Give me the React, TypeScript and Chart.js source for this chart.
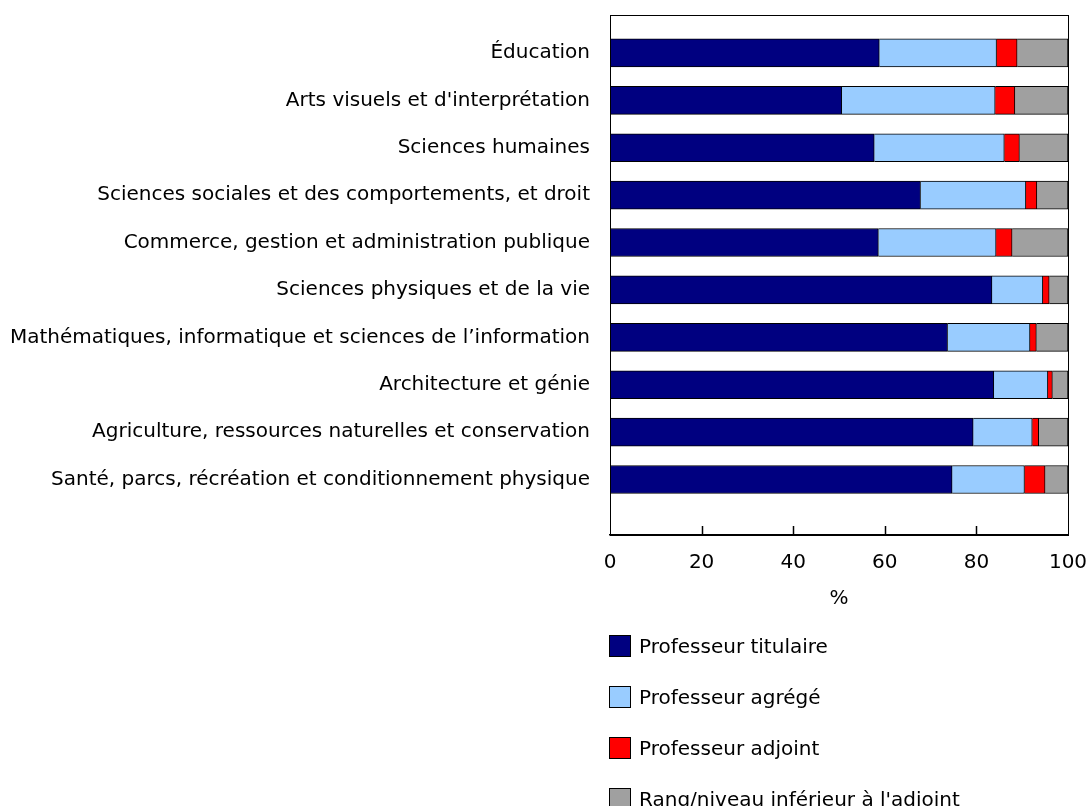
import React, { useEffect, useRef } from "react";
import { Chart, registerables } from "chart.js";

Chart.register(...registerables);

const categories = [
  "Éducation",
  "Arts visuels et d'interprétation",
  "Sciences humaines",
  "Sciences sociales et des comportements, et droit",
  "Commerce, gestion et administration publique",
  "Sciences physiques et de la vie",
  "Mathématiques, informatique et sciences de l’information",
  "Architecture et génie",
  "Agriculture, ressources naturelles et conservation",
  "Santé, parcs, récréation et conditionnement physique",
];

const seriesNames = [
  "Professeur titulaire",
  "Professeur agrégé",
  "Professeur adjoint",
  "Rang/niveau inférieur à l'adjoint",
];

const titulaire = [58.8, 50.6, 57.7, 67.8, 58.6, 83.4, 73.7, 83.8, 79.3, 74.7];
const agrege = [25.6, 33.5, 28.4, 23.0, 25.7, 11.1, 18.0, 11.8, 12.9, 15.8];
const adjoint = [4.5, 4.3, 3.3, 2.4, 3.5, 1.4, 1.4, 1.0, 1.4, 4.5];
const inferieur = [11.1, 11.6, 10.6, 6.8, 12.2, 4.1, 6.9, 3.4, 6.4, 5.0];

const xTicks = [0, 20, 40, 60, 80, 100];
const xTitle = "%";

const colors = ["#000080", "#99CCFF", "#FF0000", "#A0A0A0"];
const FONT = "'DejaVu Sans', Verdana, sans-serif";
const FS = 20;

const frameAndTicks = {
  id: "frameAndTicks",
  afterDraw(chart: any) {
    const { ctx, chartArea } = chart;
    const xs = chart.scales.x;
    ctx.save();
    ctx.strokeStyle = "#000";
    ctx.lineWidth = 1;
    ctx.strokeRect(
      Math.round(chartArea.left) + 0.5,
      Math.round(chartArea.top) + 0.5,
      Math.round(chartArea.right - chartArea.left),
      Math.round(chartArea.bottom - chartArea.top)
    );
    ctx.lineWidth = 1.5;
    xTicks.forEach((v) => {
      if (v === 0 || v === 100) return;
      const px = Math.round(xs.getPixelForValue(v)) + 0.5;
      ctx.beginPath();
      ctx.moveTo(px, chartArea.bottom);
      ctx.lineTo(px, chartArea.bottom - 9);
      ctx.stroke();
    });
    ctx.restore();
  },
};

export default function App() {
  const ref = useRef<HTMLCanvasElement>(null);

  useEffect(() => {
    if (!ref.current) return;
    Chart.defaults.font.family = FONT;
    Chart.defaults.font.size = FS;
    Chart.defaults.color = "#000";
    const series = [titulaire, agrege, adjoint, inferieur];
    const chart = new Chart(ref.current, {
      type: "bar",
      data: {
        datasets: series.map((vals, s) => ({
          label: seriesNames[s],
          data: vals.map((v, i) => ({ x: v, y: i })),
          backgroundColor: colors[s],
          borderColor: "#000",
          borderWidth: 1,
          barThickness: 28,
        })),
      },
      options: {
        indexAxis: "y",
        animation: false,
        responsive: false,
        maintainAspectRatio: false,
        layout: { padding: { top: 15, right: 19, bottom: 191, left: 0 } },
        plugins: {
          legend: { display: false },
          tooltip: { enabled: false },
        },
        scales: {
          x: {
            type: "linear",
            stacked: true,
            min: 0,
            max: 100,
            offset: false,
            afterBuildTicks: (axis: any) => {
              axis.ticks = xTicks.map((v) => ({ value: v }));
            },
            afterFit: (s: any) => {
              s.height = 80;
              s.paddingLeft = 0;
              s.paddingRight = 0;
            },
            grid: { display: false, drawTicks: false },
            border: { display: true, color: "#000", width: 1.5 },
            ticks: { padding: 16, font: { size: FS }, color: "#000" },
            title: { display: true, text: xTitle, font: { size: FS }, color: "#000" },
          },
          y: {
            type: "linear",
            stacked: true,
            reverse: true,
            offset: false,
            min: -0.8,
            max: 10.17,
            afterBuildTicks: (axis: any) => {
              axis.ticks = categories.map((_, i) => ({ value: i }));
            },
            afterFit: (s: any) => {
              s.width = 610;
              s.paddingTop = 0;
              s.paddingBottom = 0;
            },
            grid: { display: false, drawTicks: false, offset: false },
            border: { display: true, color: "#000", width: 1 },
            ticks: {
              autoSkip: false,
              padding: 20,
              font: { size: FS },
              color: "#000",
              callback: (v: any) => categories[v as number] ?? "",
            },
          },
        },
      },
      plugins: [frameAndTicks],
    });
    return () => chart.destroy();
  }, []);

  const legendCenters = [646, 697, 748, 799];

  return (
    <div
      style={{
        position: "fixed",
        left: 0,
        top: 0,
        width: 1087,
        height: 806,
        background: "#fff",
        overflow: "hidden",
      }}
    >
      <canvas ref={ref} width={1087} height={806} style={{ display: "block" }} />
      {seriesNames.map((name, i) => (
        <div
          key={name}
          style={{
            position: "absolute",
            left: 609,
            top: legendCenters[i] - 12,
            height: 24,
            display: "flex",
            alignItems: "center",
            fontFamily: FONT,
            fontSize: FS,
            color: "#000",
            whiteSpace: "nowrap",
          }}
        >
          <span
            style={{
              display: "inline-block",
              width: 20,
              height: 20,
              background: colors[i],
              border: "1px solid #000",
              marginRight: 8,
            }}
          />
          <span>{name}</span>
        </div>
      ))}
    </div>
  );
}
